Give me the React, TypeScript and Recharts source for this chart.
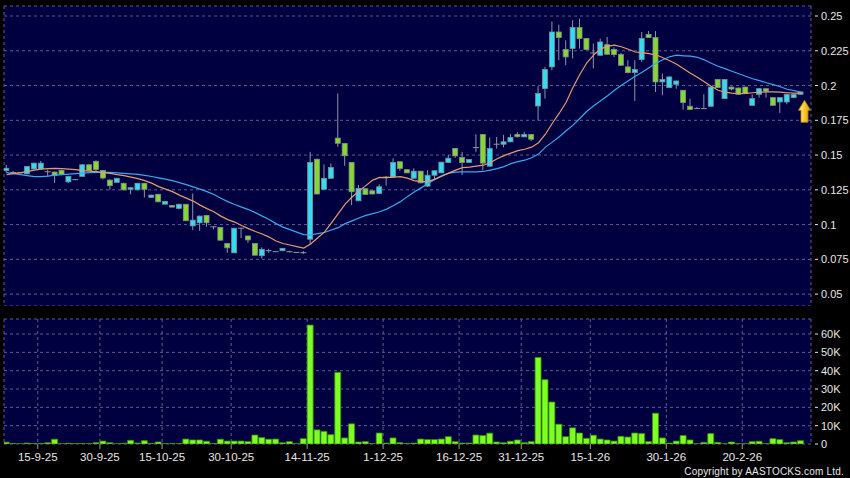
import React from 'react';
import { ComposedChart, Bar, Line, XAxis, YAxis, CartesianGrid, ReferenceDot } from 'recharts';

// daily OHLC (one entry per trading day)
const opens = [
  0.1388, 0.1375, 0.1372, 0.1365, 0.14, 0.14, 0.138, 0.1378, 0.139, 0.1307,
  0.1323, 0.1347, 0.143, 0.1455, 0.139, 0.132, 0.1304, 0.1297, 0.1254, 0.125,
  0.1297, 0.1196, 0.1218, 0.1147, 0.1137, 0.1117, 0.1146, 0.0991, 0.1013, 0.1066,
  0.0984, 0.098, 0.0864, 0.0797, 0.0974, 0.0918, 0.0864, 0.0776, 0.0812, 0.0805,
  0.0812, 0.0805, 0.08, 0.0798, 0.0895, 0.147, 0.1254, 0.1333, 0.1622, 0.1584,
  0.1447, 0.1171, 0.1258, 0.1243, 0.1224, 0.1341, 0.1342, 0.1452, 0.1395, 0.1333,
  0.1384, 0.1277, 0.1355, 0.1372, 0.1447, 0.1547, 0.1482, 0.1447, 0.1554, 0.1648,
  0.142, 0.1578, 0.1578, 0.1595, 0.1648, 0.1631, 0.1648, 0.1853, 0.1978, 0.2134,
  0.2385, 0.2259, 0.2266, 0.2417, 0.2338, 0.2234, 0.2218, 0.2294, 0.2259, 0.2223,
  0.2134, 0.2093, 0.2187, 0.2368, 0.2345, 0.2026, 0.1985, 0.2009, 0.1966, 0.1851,
  0.1834, 0.1834, 0.1851, 0.2043, 0.1906, 0.1989, 0.1982, 0.1989, 0.1858, 0.1937,
  0.1977, 0.1913, 0.1882, 0.1882, 0.1913, 0.1937,
];
const highs = [
  0.143, 0.1385, 0.1375, 0.142, 0.1445, 0.1458, 0.1395, 0.138, 0.1395, 0.135,
  0.1325, 0.1435, 0.1432, 0.1462, 0.1392, 0.1325, 0.1335, 0.13, 0.127, 0.13,
  0.13, 0.1215, 0.122, 0.117, 0.114, 0.115, 0.1148, 0.1224, 0.1065, 0.107,
  0.0986, 0.0982, 0.0866, 0.0976, 0.0976, 0.092, 0.0866, 0.0836, 0.0826, 0.0806,
  0.0832, 0.0812, 0.0802, 0.081, 0.1523, 0.1475, 0.1433, 0.144, 0.1943, 0.1586,
  0.145, 0.1284, 0.126, 0.1245, 0.129, 0.135, 0.1476, 0.1454, 0.1397, 0.1405,
  0.1386, 0.139, 0.139, 0.1451, 0.15, 0.155, 0.1523, 0.147, 0.165, 0.165,
  0.1627, 0.163, 0.1645, 0.165, 0.1665, 0.1668, 0.165, 0.1995, 0.2134, 0.246,
  0.2438, 0.2325, 0.2469, 0.2481, 0.234, 0.2302, 0.2338, 0.2349, 0.2275, 0.2235,
  0.2182, 0.2182, 0.2385, 0.2392, 0.2392, 0.2086, 0.2066, 0.2035, 0.1968, 0.1906,
  0.1845, 0.1937, 0.1992, 0.2046, 0.2046, 0.1992, 0.1985, 0.1992, 0.1937, 0.1982,
  0.198, 0.1915, 0.1915, 0.194, 0.194, 0.1956,
];
const lows = [
  0.137, 0.137, 0.137, 0.1362, 0.1398, 0.1398, 0.1345, 0.13, 0.1355, 0.13,
  0.132, 0.1345, 0.1385, 0.137, 0.1325, 0.125, 0.13, 0.1245, 0.1218, 0.1248,
  0.1195, 0.1193, 0.116, 0.1144, 0.1124, 0.111, 0.1025, 0.096, 0.0955, 0.0984,
  0.0965, 0.0885, 0.0797, 0.0795, 0.0903, 0.0869, 0.0778, 0.0757, 0.0798, 0.0804,
  0.081, 0.08, 0.0798, 0.0788, 0.0853, 0.1218, 0.125, 0.133, 0.156, 0.1423,
  0.114, 0.1168, 0.1215, 0.1218, 0.1222, 0.128, 0.134, 0.1387, 0.137, 0.1331,
  0.1298, 0.127, 0.1326, 0.137, 0.1442, 0.148, 0.1356, 0.1445, 0.1523, 0.139,
  0.1418, 0.1547, 0.1555, 0.1593, 0.1625, 0.1629, 0.16, 0.175, 0.1906, 0.211,
  0.2182, 0.2146, 0.2194, 0.2266, 0.2257, 0.2122, 0.2215, 0.2222, 0.2205, 0.2142,
  0.2088, 0.1889, 0.217, 0.2342, 0.1954, 0.193, 0.1982, 0.1977, 0.1827, 0.1825,
  0.1832, 0.1832, 0.1849, 0.1983, 0.1904, 0.1965, 0.1935, 0.194, 0.1856, 0.1913,
  0.1913, 0.1856, 0.1803, 0.1865, 0.191, 0.1935,
];
const closes = [
  0.1405, 0.1375, 0.1372, 0.1418, 0.1442, 0.1442, 0.138, 0.1352, 0.136, 0.1347,
  0.1323, 0.143, 0.1388, 0.1396, 0.1335, 0.128, 0.1333, 0.125, 0.1265, 0.1297,
  0.1254, 0.1212, 0.1164, 0.1167, 0.1126, 0.1146, 0.1028, 0.1032, 0.1061, 0.1013,
  0.0984, 0.0888, 0.0833, 0.0974, 0.0974, 0.089, 0.078, 0.0822, 0.0812, 0.0805,
  0.0829, 0.0805, 0.08, 0.0798, 0.1447, 0.122, 0.1333, 0.141, 0.1585, 0.1495,
  0.1236, 0.126, 0.1217, 0.122, 0.1272, 0.1341, 0.1447, 0.1404, 0.1372, 0.1384,
  0.13, 0.1355, 0.1387, 0.1449, 0.1477, 0.1494, 0.1447, 0.1468, 0.1554, 0.1442,
  0.1547, 0.1578, 0.1595, 0.1627, 0.1632, 0.1648, 0.1614, 0.1943, 0.2115, 0.2385,
  0.2345, 0.2206, 0.2417, 0.2338, 0.2259, 0.2234, 0.2313, 0.2225, 0.2223, 0.2146,
  0.2093, 0.2115, 0.2338, 0.2345, 0.2026, 0.2043, 0.2062, 0.2033, 0.1878, 0.1827,
  0.1834, 0.1834, 0.1989, 0.1985, 0.2043, 0.1975, 0.1937, 0.1942, 0.1906, 0.1977,
  0.196, 0.1858, 0.1913, 0.1937, 0.1937, 0.1954,
];
const volumes = [
  1000, 300, 100, 500, 300, 300, 700, 2600, 100, 400,
  200, 300, 200, 700, 1600, 700, 100, 400, 2000, 500,
  1800, 300, 1100, 200, 300, 200, 2700, 2200, 2200, 1500,
  300, 2600, 1600, 1600, 1600, 1300, 4900, 3500, 2600, 2700,
  700, 1300, 200, 2900, 64900, 7700, 6900, 5100, 39100, 3300,
  11000, 1100, 1300, 200, 6000, 500, 3300, 700, 300, 500,
  2700, 2400, 2400, 2700, 4000, 1300, 500, 500, 4900, 4600,
  5900, 1100, 700, 1500, 2200, 700, 1300, 47200, 35100, 22900,
  10800, 4000, 8800, 6000, 3100, 4800, 2700, 2200, 1600, 4200,
  3800, 6000, 5700, 1300, 16800, 3300, 500, 1600, 4600, 2200,
  100, 900, 5700, 900, 100, 1100, 200, 200, 1300, 1500,
  200, 2900, 2400, 700, 1100, 1800,
];
// short (orange) and long (blue) moving averages as drawn
const maShort = [
  0.1359, 0.1366, 0.1374, 0.1381, 0.1392, 0.1399, 0.1402, 0.1404, 0.1402, 0.1399,
  0.1395, 0.1388, 0.1384, 0.1381, 0.1374, 0.1368, 0.1359, 0.1352, 0.1341, 0.1331,
  0.1316, 0.1298, 0.1273, 0.1255, 0.1237, 0.1212, 0.119, 0.1169, 0.114, 0.1115,
  0.1093, 0.1061, 0.1036, 0.1018, 0.0993, 0.0971, 0.095, 0.0932, 0.091, 0.0882,
  0.0864, 0.0853, 0.0842, 0.0831, 0.086, 0.0903, 0.0946, 0.1011, 0.1079, 0.1147,
  0.1198, 0.1241, 0.128, 0.132, 0.1339, 0.1338, 0.1342, 0.1345, 0.1334, 0.1316,
  0.1309, 0.1309, 0.1327, 0.1348, 0.137, 0.1392, 0.141, 0.1413, 0.142, 0.1427,
  0.1445, 0.1474, 0.1496, 0.1514, 0.1532, 0.1542, 0.1557, 0.1589, 0.165, 0.1729,
  0.1801, 0.188, 0.1988, 0.2081, 0.2164, 0.2221, 0.2264, 0.2282, 0.229, 0.2279,
  0.2261, 0.2241, 0.2236, 0.223, 0.2221, 0.22, 0.2178, 0.2153, 0.2121, 0.2088,
  0.206, 0.2027, 0.1995, 0.1966, 0.1952, 0.1945, 0.1941, 0.1943, 0.1948, 0.1952,
  0.1954, 0.1954, 0.1952, 0.1948, 0.1945, 0.1943,
];
const maLong = [
  0.1374, 0.1366, 0.1359, 0.1352, 0.1345, 0.1345, 0.1348, 0.1356, 0.1359, 0.1363,
  0.1366, 0.137, 0.1374, 0.1375, 0.1376, 0.1375, 0.1372, 0.1369, 0.1365, 0.1361,
  0.1354, 0.1346, 0.1336, 0.1327, 0.1316, 0.1302, 0.1287, 0.1271, 0.1255, 0.1237,
  0.1216, 0.119, 0.1165, 0.1144, 0.1126, 0.1108, 0.1086, 0.1061, 0.1036, 0.1007,
  0.0982, 0.0964, 0.0946, 0.0928, 0.0925, 0.0935, 0.0943, 0.0961, 0.0978, 0.1007,
  0.1027, 0.1047, 0.1066, 0.1079, 0.1092, 0.1111, 0.1137, 0.1165, 0.1201, 0.1234,
  0.1264, 0.1295, 0.1325, 0.1352, 0.137, 0.1377, 0.1379, 0.1379, 0.1379, 0.1382,
  0.1392, 0.1402, 0.1417, 0.1438, 0.1453, 0.1463, 0.1481, 0.1507, 0.1557, 0.1593,
  0.1632, 0.1675, 0.1715, 0.1765, 0.1815, 0.1855, 0.1891, 0.1927, 0.1966, 0.2002,
  0.2035, 0.2067, 0.2096, 0.2128, 0.216, 0.2185, 0.2207, 0.2218, 0.2214, 0.2211,
  0.2203, 0.2185, 0.216, 0.2139, 0.2122, 0.2103, 0.2085, 0.2067, 0.2049, 0.2035,
  0.202, 0.2006, 0.1991, 0.1973, 0.1963, 0.1952,
];

const priceTicks = [0.05, 0.075, 0.1, 0.125, 0.15, 0.175, 0.2, 0.225, 0.25];
const volumeTicks = [0, 10000, 20000, 30000, 40000, 50000, 60000];
const dateTicks = [4.5, 13.5, 22.5, 32.5, 43.5, 54.5, 65.5, 74.5, 84.5, 95.5, 106.5];
const dateLabels = [
  '15-9-25', '30-9-25', '15-10-25', '30-10-25', '14-11-25', '1-12-25',
  '16-12-25', '31-12-25', '15-1-26', '30-1-26', '20-2-26',
];
const arrowPrice = 0.1815;

const rows = opens.map((o, i) => ({
  i,
  open: o,
  high: highs[i],
  low: lows[i],
  close: closes[i],
  range: [lows[i], highs[i]],
  vol: volumes[i],
  maShort: maShort[i],
  maLong: maLong[i],
}));

const PANEL = '#000040';
const GRID = '#5e5e8e';
const TEXT = '#e6e6e6';
const UP = '#33dcef';
const DOWN = '#86d82c';
const WICK = '#8c96a2';
const X_DOMAIN = [-0.39, 116.45];

function Candle(props: any) {
  const { x, y, width, height, payload } = props;
  if (payload == null) return null;
  const mid = x + width / 2;
  const k = height / (payload.high - payload.low);
  const yOf = (v: number) => y + (payload.high - v) * k;
  const yo = yOf(payload.open);
  const yc = yOf(payload.close);
  const flat = payload.open === payload.close;
  return (
    <g>
      <line x1={mid} x2={mid} y1={y} y2={y + height} stroke={WICK} strokeWidth={1} />
      {flat ? (
        <line x1={mid - 3} x2={mid + 3} y1={yo} y2={yo} stroke={WICK} strokeWidth={1} />
      ) : (
        <rect
          x={mid - 2.5}
          y={Math.min(yo, yc)}
          width={5}
          height={Math.max(1.5, Math.abs(yc - yo))}
          fill={payload.close > payload.open ? UP : DOWN}
          stroke="#7e8e98"
          strokeWidth={0.8}
        />
      )}
    </g>
  );
}

function Arrow(props: any) {
  const { cx, cy } = props;
  const x = cx + 3.5;
  const d = `M${x},${cy - 11} L${x + 6},${cy - 1} L${x + 3.5},${cy - 1} L${x + 3.5},${cy + 11} L${x - 3.5},${cy + 11} L${x - 3.5},${cy - 1} L${x - 6},${cy - 1} Z`;
  return <path d={d} fill="url(#arrowFill)" stroke="#b98400" strokeWidth={0.8} />;
}

const makeRightTick = (fmt: (v: number) => string) => (props: any) => {
  const { x, y, payload } = props;
  return (
    <g>
      <line x1={x + 4} x2={x + 7} y1={y} y2={y} stroke={TEXT} strokeWidth={1} />
      <text x={x + 10} y={y} dy={4} fill={TEXT} fontSize={11}>
        {fmt(payload.value)}
      </text>
    </g>
  );
};

const PriceTick = makeRightTick((v) => String(v));
const VolumeTick = makeRightTick((v) => (v === 0 ? '0' : `${v / 1000}K`));

export default function App() {
  return (
    <div
      style={{
        position: 'absolute',
        left: 0,
        top: 0,
        width: 850,
        height: 478,
        background: '#000',
        overflow: 'hidden',
        fontFamily: '"Liberation Sans", Arial, sans-serif',
      }}
    >
      <div style={{ position: 'absolute', left: 0, top: 0 }}>
        <ComposedChart width={850} height={306} data={rows} margin={{ top: 6, right: 0, bottom: 0, left: 4 }}>
          <defs>
            <linearGradient id="arrowFill" x1="0" y1="0" x2="1" y2="0">
              <stop offset="0%" stopColor="#fff3a0" />
              <stop offset="55%" stopColor="#f6c421" />
              <stop offset="100%" stopColor="#d99a00" />
            </linearGradient>
          </defs>
          <CartesianGrid fill={PANEL} fillOpacity={1} stroke={GRID} strokeDasharray="3 3" />
          <XAxis
            dataKey="i"
            type="number"
            domain={X_DOMAIN}
            allowDataOverflow
            ticks={dateTicks}
            interval={0}
            height={0}
            tick={false}
            axisLine={false}
            tickLine={false}
          />
          <YAxis
            orientation="right"
            width={39}
            type="number"
            domain={[0.04145, 0.2572]}
            allowDataOverflow
            ticks={priceTicks}
            interval={0}
            axisLine={false}
            tickLine={false}
            tickSize={0}
            tickMargin={0}
            tick={PriceTick}
          />
          <Bar dataKey="range" barSize={6} shape={Candle} isAnimationActive={false} />
          <Line dataKey="maLong" type="linear" stroke="#3aa6ee" strokeWidth={1.2} dot={false} isAnimationActive={false} />
          <Line dataKey="maShort" type="linear" stroke="#e59a6c" strokeWidth={1.2} dot={false} isAnimationActive={false} />
          <ReferenceDot x={rows.length - 1} y={arrowPrice} shape={Arrow} />
        </ComposedChart>
      </div>
      <div style={{ position: 'absolute', left: 0, top: 313 }}>
        <ComposedChart width={850} height={165} data={rows} margin={{ top: 6, right: 0, bottom: 0, left: 4 }}>
          <CartesianGrid fill={PANEL} fillOpacity={1} stroke={GRID} strokeDasharray="3 3" />
          <XAxis
            dataKey="i"
            type="number"
            domain={X_DOMAIN}
            allowDataOverflow
            ticks={dateTicks}
            interval={0}
            height={34}
            axisLine={false}
            tickLine={{ stroke: '#9a9a9a' }}
            tickSize={5}
            tickMargin={4}
            tick={{ fill: TEXT, fontSize: 11.5 }}
            tickFormatter={(v: number) => dateLabels[dateTicks.indexOf(v)] ?? ''}
          />
          <YAxis
            orientation="right"
            width={39}
            type="number"
            domain={[0, 68200]}
            allowDataOverflow
            ticks={volumeTicks}
            interval={0}
            axisLine={false}
            tickLine={false}
            tickSize={0}
            tickMargin={0}
            tick={VolumeTick}
          />
          <Bar dataKey="vol" barSize={6} fill="#7dff24" stroke="#3b8f0a" strokeWidth={0.8} isAnimationActive={false} />
        </ComposedChart>
      </div>
      <div
        style={{
          position: 'absolute',
          right: 6,
          top: 466,
          fontSize: 10,
          lineHeight: '12px',
          letterSpacing: 0.2,
          color: TEXT,
          whiteSpace: 'nowrap',
        }}
      >
        Copyright by AASTOCKS.com Ltd.
      </div>
    </div>
  );
}
